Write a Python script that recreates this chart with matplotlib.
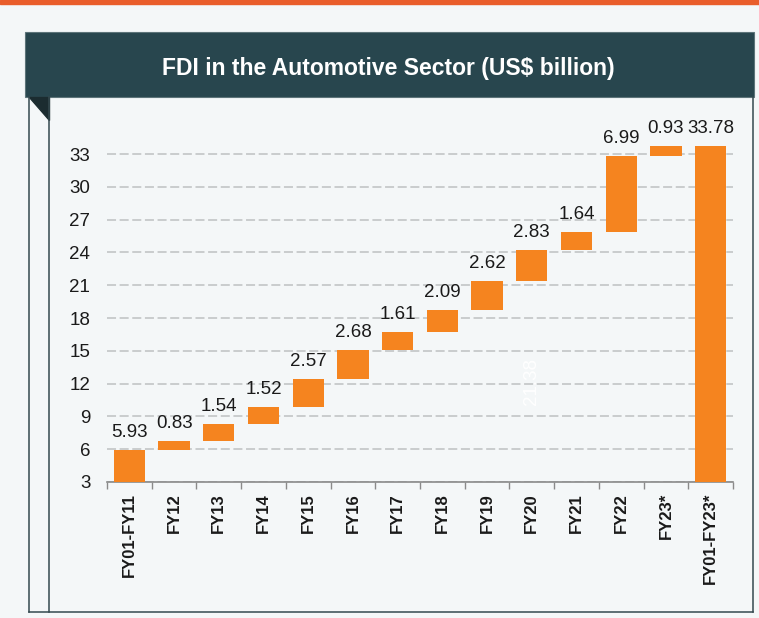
import matplotlib.pyplot as plt
from matplotlib.patches import Rectangle, Polygon
from matplotlib.lines import Line2D
import numpy as np

# data
categories = ['FY01-FY11', 'FY12', 'FY13', 'FY14', 'FY15', 'FY16', 'FY17',
              'FY18', 'FY19', 'FY20', 'FY21', 'FY22', 'FY23*', 'FY01-FY23*']
steps = [5.93, 0.83, 1.54, 1.52, 2.57, 2.68, 1.61, 2.09, 2.62, 2.83, 1.64, 6.99, 0.93]
total = 33.78
step_labels = ['5.93', '0.83', '1.54', '1.52', '2.57', '2.68', '1.61', '2.09',
               '2.62', '2.83', '1.64', '6.99', '0.93']
total_label = '33.78'
hidden_label = '21.38'
yticks = [3, 6, 9, 12, 15, 18, 21, 24, 27, 30, 33]

plt.rcParams['font.family'] = ['Liberation Sans', 'DejaVu Sans']

W, H = 759, 618
fig = plt.figure(figsize=(W / 100, H / 100), dpi=100)
fig.patch.set_facecolor('#f4f7f8')

def fx(px):
    return px / W

def fy(py):
    return 1 - py / H

# orange strip on top
fig.patches.append(Rectangle((0, fy(4)), 1, 4 / H, transform=fig.transFigure,
                             color='#e95d2b', zorder=0))
# header box
fig.patches.append(Rectangle((fx(25), fy(97)), fx(729), 65 / H, transform=fig.transFigure,
                             facecolor='#28464e', edgecolor='#5d7479', lw=0.8, zorder=1))
fig.text(fx(388), fy(66), 'FDI in the Automotive Sector (US$ billion)', color='white',
         fontsize=16.5, fontweight='bold', ha='center', va='center_baseline')

# panel border
bc = '#34494f'
for xs, ys in [([29, 29], [97, 612]), ([49, 49], [97, 612]),
               ([29, 753], [612, 612]), ([753, 753], [97, 612])]:
    fig.lines.append(Line2D([fx(x) for x in xs], [fy(y) for y in ys],
                            transform=fig.transFigure, color=bc, lw=1.1))
fig.patches.append(Polygon([(fx(29), fy(97)), (fx(49), fy(97)), (fx(49), fy(120))],
                           closed=True, transform=fig.transFigure, color='#1b2c30'))

# chart area
ax = fig.add_axes([fx(107), fy(482), fx(626), (482 - 121.3) / H])
ax.set_facecolor('none')

heights = steps + [total]
bottoms = list(np.concatenate([[0], np.cumsum(steps)[:-1]])) + [0]
x = np.arange(len(categories))
bar_color = '#f5841f'
ax.bar(x, heights, bottom=bottoms, width=0.7, color=bar_color, zorder=3)

labels = step_labels + [total_label]
for i, (b, h, t) in enumerate(zip(bottoms, heights, labels)):
    ax.annotate(t, (x[i], b + h), xytext=(0, 6.5), textcoords='offset points',
                ha='center', va='bottom', fontsize=13.5, color='#1a1a1a', zorder=4)

# faint hidden label
ax.text(9, 12.2, hidden_label, rotation=90, ha='center', va='center',
        fontsize=13.5, color='#ffffff', zorder=4)

ax.set_xlim(-0.5, len(categories) - 0.5)
ax.set_ylim(3, 36)
ax.set_yticks(yticks)
ax.set_yticklabels([str(v) for v in yticks], fontsize=13.5, color='#1a1a1a')
ax.tick_params(axis='y', length=0, pad=12)
ax.yaxis.grid(True, color='#c6c9ca', linestyle=(0, (5, 2)), lw=1.3, zorder=0)

ax.set_xticks(x)
ax.set_xticklabels(categories, rotation=90, fontsize=12, fontweight='bold', color='#1a1a1a')
ax.tick_params(axis='x', length=0, pad=8)
# category boundary ticks
ax.set_xticks(np.arange(len(categories) + 1) - 0.5, minor=True)
ax.tick_params(axis='x', which='minor', length=5, color='#8a8a8a', width=1)

for s in ['top', 'right', 'left']:
    ax.spines[s].set_visible(False)
ax.spines['bottom'].set_color('#8a8a8a')
ax.spines['bottom'].set_linewidth(1.2)

fig.savefig('out.png', dpi=100, facecolor=fig.get_facecolor())
